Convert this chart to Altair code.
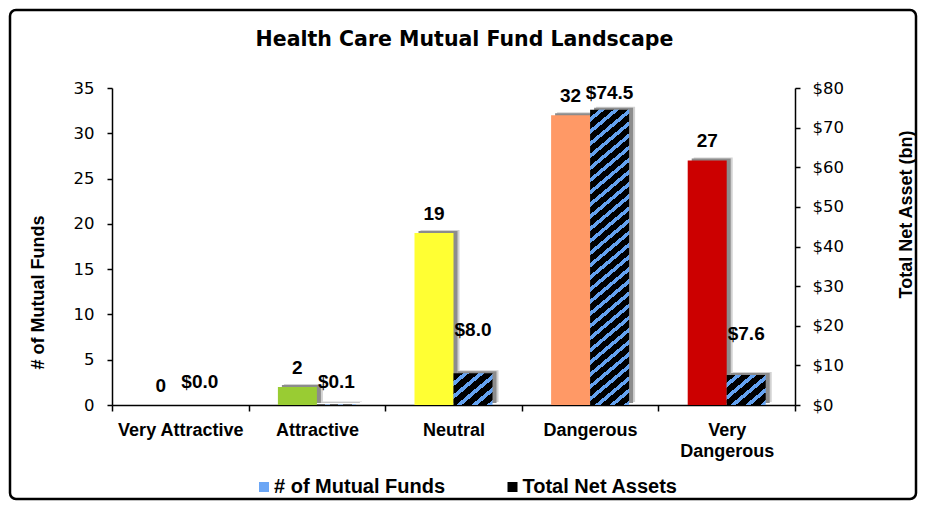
import altair as alt
import pandas as pd

# ---------------- data ----------------
categories = ["Very Attractive", "Attractive", "Neutral", "Dangerous", "Very Dangerous"]
fund_counts = [0, 2, 19, 32, 27]
net_assets = [0.0, 0.1, 8.0, 74.5, 7.6]
bar_colors = ["#00a651", "#99cc33", "#ffff33", "#ff9966", "#cc0000"]
series_names = ["# of Mutual Funds", "Total Net Assets"]
count_ticks = [0, 5, 10, 15, 20, 25, 30, 35]
asset_ticks = [0, 10, 20, 30, 40, 50, 60, 70, 80]
chart_title = "Health Care Mutual Fund Landscape"

# ---------------- style ----------------
W, H = 683, 317
COUNT_MAX, ASSET_MAX = 35, 80
BAR_W = 39
HALF = BAR_W / 2
BLUE = "#64a2f0"
LEGEND_BLUE = "#6ba6f5"
BLACK = "#000000"
SHADOW_DARK = "#8c8c8c"
SHADOW_LIGHT = "#d2d2d2"

df = pd.DataFrame({"category": categories, "count": fund_counts, "assets": net_assets})
one = pd.DataFrame({"k": [0]})
legend_df = pd.DataFrame({"series": series_names})


def hatch(value):
    """diagonal stripe fill built as a hard-stop linear gradient"""
    h = max(value / ASSET_MAX * H, 0.5)
    w = BAR_W
    m = 0.84      # slope of stripes
    V = 12.3      # vertical spacing of stripes (px)
    r = m * w / h
    b = (r + 1) / (r * r + 1)
    a = r * b
    n = max(1, round((m * w + h) / V))
    stops = []
    for k in range(n):
        t0, t1, t2 = k / n, (k + 0.62) / n, (k + 1) / n
        stops += [{"offset": t0, "color": BLACK}, {"offset": t1, "color": BLACK},
                  {"offset": t1, "color": BLUE}, {"offset": t2, "color": BLUE}]
    return {"gradient": "linear", "x1": 0, "y1": 0, "x2": a, "y2": b, "stops": stops}


def xscale():
    return alt.Scale(domain=categories, paddingInner=0, paddingOuter=0)


def cscale():
    return alt.Scale(domain=[0, COUNT_MAX], nice=False, zero=True)


def ascale():
    return alt.Scale(domain=[0, ASSET_MAX], nice=False, zero=True)


def x_axis():
    return alt.Axis(
        title=None, labelAngle=0, labelFont="Liberation Sans", labelFontSize=18,
        labelFontWeight="bold", labelColor="black", tickBand="extent", tickSize=6,
        tickWidth=1.5, tickColor="black", domainColor="black", domainWidth=1.5,
        labelPadding=10.5, labelBaseline="top", labelLineHeight=21,
        labelExpr="datum.label == 'Very Dangerous' ? ['Very', 'Dangerous'] : datum.label",
    )


left_axis = alt.Axis(
    title="# of Mutual Funds", values=count_ticks, grid=False, orient="left",
    titleFont="Liberation Sans", titleFontSize=18, titleFontWeight="bold", titleColor="black",
    titleAngle=270, titleX=-73.5, titleY=204, titleAlign="center", titleBaseline="middle",
    labelFont="DejaVu Sans", labelFontSize=16.5, labelColor="black", labelPadding=13,
    tickSize=5, tickWidth=1.5, tickColor="black", domainColor="black", domainWidth=1.5,
)
right_axis = alt.Axis(
    title="Total Net Asset (bn)", values=asset_ticks, grid=False, orient="right",
    labelExpr="'$' + datum.value",
    titleFont="Liberation Sans", titleFontSize=18, titleFontWeight="bold", titleColor="black",
    titleAngle=270, titleX=111.7, titleY=126, titleAlign="center", titleBaseline="middle",
    labelFont="DejaVu Sans", labelFontSize=16.5, labelColor="black", labelPadding=12,
    tickSize=5, tickWidth=1.5, tickColor="black", domainColor="black", domainWidth=1.5,
)


def X():
    return alt.X("category:N", sort=categories, scale=xscale(), axis=x_axis())


base = alt.Chart(df)
layers = []

# ---- frame and title ----
layers.append(alt.Chart(one).mark_rect(
    fill="white", fillOpacity=0, stroke="black", strokeWidth=2.5, cornerRadius=6
).encode(x=alt.value(-102), x2=alt.value(804), y=alt.value(-78), y2=alt.value(411)))

layers.append(alt.Chart(one).mark_text(
    text=chart_title, font="DejaVu Sans", fontSize=20.5, fontWeight="bold",
    color="black", align="center", baseline="middle",
).encode(x=alt.value(352.5), y=alt.value(-48.5)))

# ---- count series (left axis) ----
layers.append(base.mark_bar(width=BAR_W, xOffset=-HALF + 6, yOffset=-3, color=SHADOW_LIGHT).encode(
    x=X(), y=alt.Y("count:Q", scale=cscale(), axis=None)))
layers.append(base.mark_bar(width=BAR_W, xOffset=-HALF + 4, yOffset=-2, color=SHADOW_DARK).encode(
    x=X(), y=alt.Y("count:Q", scale=cscale(), axis=None)))
layers.append(base.mark_bar(width=BAR_W, xOffset=-HALF).encode(
    x=X(),
    y=alt.Y("count:Q", scale=cscale(), axis=left_axis),
    color=alt.Color("category:N", scale=alt.Scale(domain=categories, range=bar_colors), legend=None),
))

# ---- asset series (right axis) ----
layers.append(base.mark_bar(width=BAR_W, xOffset=HALF + 6, yOffset=-3, color=SHADOW_LIGHT).encode(
    x=X(), y=alt.Y("assets:Q", scale=ascale(), axis=None)))
layers.append(base.mark_bar(width=BAR_W, xOffset=HALF + 4, yOffset=-2, color=SHADOW_DARK).encode(
    x=X(), y=alt.Y("assets:Q", scale=ascale(), axis=right_axis)))
for cat, val in zip(categories, net_assets):
    layers.append(
        base.transform_filter(alt.datum.category == cat)
        .mark_bar(width=BAR_W, xOffset=HALF, fill=hatch(val))
        .encode(x=X(), y=alt.Y("assets:Q", scale=ascale(), axis=None))
    )

# ---- value labels ----
layers.append(base.mark_text(
    dx=-HALF, dy=-19, baseline="middle", align="center", font="Liberation Sans",
    fontSize=19, fontWeight="bold", color="black",
).encode(x=X(), y=alt.Y("count:Q", scale=cscale(), axis=None), text=alt.Text("count:Q", format="d")))
layers.append(base.transform_calculate(
    labpos="clamp(datum.assets, 2.3, 34.2)",
    lab="'$' + format(datum.assets, '.1f')",
).mark_text(
    dx=HALF, dy=-2.5, baseline="middle", align="center", font="Liberation Sans",
    fontSize=19, fontWeight="bold", color="black",
).encode(x=X(), y=alt.Y("labpos:Q", scale=cscale(), axis=None), text="lab:N"))

# ---- legend ----
layers.append(alt.Chart(legend_df).mark_square(size=0).encode(
    x=alt.value(0), y=alt.value(0),
    fill=alt.Fill(
        "series:N",
        scale=alt.Scale(domain=series_names, range=[LEGEND_BLUE, BLACK]),
        legend=alt.Legend(
            title=None, orient="none", legendX=142, legendY=389, direction="horizontal",
            labelFont="Liberation Sans", labelFontSize=20, labelFontWeight="bold",
            labelColor="black", labelOffset=0, labelLimit=400, symbolSize=100, symbolType="square",
            symbolOpacity=1, symbolStrokeWidth=0, symbolOffset=0,
            columnPadding=56.5, padding=0,
        ),
    ),
))

chart = (
    alt.layer(*layers)
    .resolve_scale(y="independent")
    .properties(width=W, height=H, padding=0, background="white")
    .configure_view(stroke=None)
)

chart.save("out.html", embed_options={"renderer": "svg", "actions": False})
